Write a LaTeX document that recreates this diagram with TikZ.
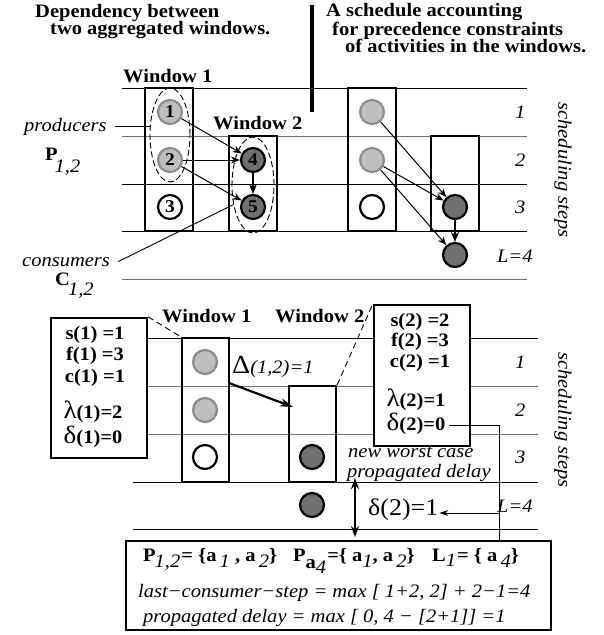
\documentclass[tikz,border=0pt]{standalone}
\usepackage{fontspec}
\setmainfont{Liberation Serif}[FakeStretch=1.08]
\usetikzlibrary{shapes.geometric,arrows.meta}
\definecolor{lightfill}{HTML}{BEBEBE}
\definecolor{lightdraw}{HTML}{8C8C8C}
\definecolor{darkfill}{HTML}{707070}
\definecolor{gridgray}{HTML}{707070}
\newcommand\fs[1]{\fontsize{#1}{#1}\selectfont}
\newcommand\lowit[2][0.5em]{\raisebox{-#1}{\normalfont\itshape #2}}
\newcommand\lowbf[2][0.45em]{\raisebox{-#1}{#2}}
\begin{document}
\begin{tikzpicture}[x=1pt,y=-1pt,font=\fs{19},
  lbl/.style={anchor=base west,inner sep=0pt},
  cbl/.style={anchor=base,inner sep=0pt,font=\fs{19}\bfseries},
  gridb/.style={line width=0.9pt},
  gridg/.style={line width=0.9pt,draw=gridgray},
  winbox/.style={draw,line width=2.3pt,inner sep=0pt,minimum width=48pt},
  infobox/.style={draw,line width=2.3pt,fill=white,inner sep=0pt,minimum width=96pt},
  lightc/.style={circle,fill=lightfill,draw=lightdraw,line width=2.2pt,minimum size=24pt,inner sep=0pt,font=\fs{18}\bfseries},
  whitec/.style={circle,fill=white,draw=black,line width=2.2pt,minimum size=24pt,inner sep=0pt,font=\fs{18}\bfseries},
  darkc/.style={circle,fill=darkfill,draw=black,line width=2.2pt,minimum size=24pt,inner sep=0pt,font=\fs{18}\bfseries},
  arr/.style={-{Stealth[length=9pt,width=7pt]},line width=1pt},
  thickarr/.style={-{Stealth[length=10pt,width=8pt]},line width=2.2pt},
  dashline/.style={dash pattern=on 6pt off 4pt,line width=0.9pt},
  group/.style={ellipse,draw,dash pattern=on 6pt off 3pt,line width=0.9pt,inner sep=0pt},
  steps/.style={rotate=-90,font=\fs{19}\itshape,inner sep=0pt}
]
\useasboundingbox (0,0) rectangle (604,635);

% ---------- titles ----------
\node[lbl,font=\fs{19}\bfseries] (t1a) at (35,17) {Dependency between};
\node[lbl,font=\fs{19}\bfseries] (t1b) at (50,34) {two aggregated windows.};
\node[lbl,font=\fs{19}\bfseries] (t2a) at (326,16) {A schedule accounting};
\node[lbl,font=\fs{19}\bfseries] (t2b) at (332,35) {for precedence constraints};
\node[lbl,font=\fs{19}\bfseries] (t2c) at (345,52) {of activities in the windows.};
\coordinate (barT) at (312,5);
\coordinate (barB) at (312,112);
\draw[line width=4pt] (barT) -- (barB);

% ---------- top grid ----------
\draw[gridb] (122,88) -- (527,88);
\draw[gridg] (122,136) -- (527,136);
\draw[gridb] (122,184) -- (527,184);
\draw[gridb] (122,231) -- (527,231);
\draw[gridg] (122,279) -- (527,279);

% ---------- top left: two windows ----------
\node[winbox,minimum height=143pt] (W1) at (169,159.5) {};
\node[winbox,minimum height=95pt] (W2) at (253,183.5) {};
\node[lbl,font=\fs{19}\bfseries] (w1lab) at (123,82) {Window 1};
\node[lbl,font=\fs{19}\bfseries] (w2lab) at (213,129) {Window 2};

\node[group,minimum width=40pt,minimum height=94pt] (prod) at (170,135) {};
\node[group,minimum width=42pt,minimum height=96pt] (cons) at (253,185) {};

\node[lightc] (a1) at (170,112) {1};
\node[lightc] (a2) at (170,160) {2};
\node[whitec] (a3) at (170,207) {3};
\node[darkc] (a4) at (253,160) {4};
\node[darkc] (a5) at (253,207) {5};

\draw[arr] (a1) -- (a4);
\draw[arr] (a2) -- (a4);
\draw[arr] (a2) -- (a5);
\draw[thickarr,line width=1.8pt] (a4) -- (a5);

\node[lbl,font=\fs{19}\itshape] (prodlab) at (24,131) {producers};
\draw[line width=0.9pt] ([xshift=8pt]prodlab.east) -- (prodlab.east -| prod.west);
\node[lbl] (Plab) at (45,160) {\textbf{P}\kern-3pt\lowit[0.65em]{1,2}};
\node[lbl,font=\fs{19}\itshape] (conslab) at (22,266) {consumers};
\draw[line width=0.9pt] ([xshift=8pt]conslab.east) -- (cons.225);
\node[lbl] (Clab) at (55,285) {\textbf{C}\kern-2pt\lowit[0.55em]{1,2}};

% ---------- top right: schedule ----------
\node[winbox,minimum height=143pt] (WA) at (372,159.5) {};
\node[winbox,minimum height=95pt] (WB) at (455,183.5) {};
\node[lightc] (b1) at (372,112) {};
\node[lightc] (b2) at (372,160) {};
\node[whitec] (b3) at (372,207) {};
\node[darkc] (b4) at (455,207) {};
\node[darkc] (b5) at (455,255) {};
\draw[arr] (b1) -- (b4);
\draw[arr] (b2) -- (b4);
\draw[arr] (b2) -- (b5);
\draw[thickarr,line width=1.8pt] (b4) -- (b5);

\node[lbl,font=\fs{19}\itshape] (s1) at (515,118) {1};
\node[lbl,font=\fs{19}\itshape] (s2) at (515,166) {2};
\node[lbl,font=\fs{19}\itshape] (s3) at (515,213) {3};
\node[lbl,font=\fs{19}\itshape] (sL) at (497,262) {L=4};
\node[steps] (ss1) at (563,170) {scheduling steps};

% ---------- bottom grid ----------
\draw[gridb] (133,338) -- (538,338);
\draw[gridg] (133,386) -- (538,386);
\draw[gridg] (133,434) -- (538,434);
\draw[gridb] (133,482) -- (538,482);
\draw[gridb] (133,529) -- (538,529);

% ---------- bottom windows ----------
\node[winbox,minimum width=47pt,minimum height=144pt] (W1b) at (205.5,410) {};
\node[winbox,minimum width=47pt,minimum height=96pt] (W2b) at (312.5,434) {};
\node[lbl,font=\fs{19}\bfseries] (w1blab) at (162,322) {Window 1};
\node[lbl,font=\fs{19}\bfseries] (w2blab) at (275,322) {Window 2};

\node[lightc] (c1) at (205,362) {};
\node[lightc] (c2) at (205,410) {};
\node[whitec] (c3) at (205,457) {};
\node[darkc] (c4) at (312,457) {};
\node[darkc] (c5) at (312,505) {};

% left info box
\node[infobox,minimum height=140pt] (lbox) at (99,388) {};
\node[cbl] (l1) at (95,339) {s(1) =1};
\node[cbl] (l2) at (95,360) {f(1) =3};
\node[cbl] (l3) at (95,382) {c(1) =1};
\node[cbl] (l4) at (93,418) {{\mdseries\fs{25}λ}(1)=2};
\node[cbl] (l5) at (93,443) {{\mdseries\fs{25}δ}(1)=0};
\draw[dashline] (lbox.north east) -- (W1b.north west);

% right info box
\node[infobox,minimum height=141pt] (rbox) at (422,375.5) {};
\node[cbl] (r1) at (420,326) {s(2) =2};
\node[cbl] (r2) at (420,346) {f(2) =3};
\node[cbl] (r3) at (420,367) {c(2) =1};
\node[cbl] (r4) at (416,406) {{\mdseries\fs{25}λ}(2)=1};
\node[cbl] (r5) at (416,430) {{\mdseries\fs{25}δ}(2)=0};
\draw[dashline] (W2b.north east) -- (rbox.north west);

% delta arrow
\node[lbl] (dlab) at (232,373) {{\fs{26}Δ}{\itshape(1,2)=1}};
\coordinate (dS) at (229,383);
\coordinate (dE) at (293,407);
\draw[thickarr,-{Stealth[length=13pt,width=8pt]}] (dS) -- (dE);

\node[lbl,font=\fs{19}\itshape] (nw1) at (348,457) {new worst case};
\node[lbl,font=\fs{19}\itshape] (nw2) at (347,477) {propagated delay};

\node[lbl,font=\fs{19}\itshape] (u1) at (515,368) {1};
\node[lbl,font=\fs{19}\itshape] (u2) at (515,416) {2};
\node[lbl,font=\fs{19}\itshape] (u3) at (515,463) {3};
\node[lbl,font=\fs{19}\itshape] (uL) at (497,512) {L=4};
\node[steps] (ss2) at (563,420) {scheduling steps};

% propagated delay
\coordinate (da1) at (355,478);
\coordinate (da2) at (355,537);
\draw[{Stealth[length=11pt,width=8pt]}-{Stealth[length=11pt,width=8pt]},line width=2.2pt] (da1) -- (da2);
\node[lbl,font=\fs{24}] (d21) at (368,515) {δ(2)=1};

% formula box
\node[draw,line width=2.3pt,fill=white,inner sep=0pt,minimum width=425pt,minimum height=89pt] (fbox) at (338.5,585.5) {};
\node[lbl] (f1) at (143,561) {\textbf{P}\kern-1pt\lowit[0.35em]{1,2}\kern1pt\textbf{= \{a}\,\lowit[0.35em]{1}\textbf{ , a}\,\lowit[0.35em]{2}\textbf{\}}};
\node[lbl] (f2) at (293,561) {\textbf{P}\lowbf[0.4em]{\textbf{a}\lowit[0.25em]{4}}\kern1pt\textbf{=\{ a}\lowit[0.35em]{1}\textbf{, a}\,\lowit[0.35em]{2}\textbf{\}}};
\node[lbl] (f3) at (432,561) {\textbf{L}\lowit[0.3em]{1}\kern1pt\textbf{= \{ a}\,\lowit[0.35em]{4}\textbf{\}}};
\node[lbl,font=\fs{19}\itshape] (f4) at (138,597) {last−consumer−step = max [ 1+2, 2] + 2−1=4};
\node[lbl,font=\fs{19}\itshape] (f5) at (143,622) {propagated delay = max [ 0, 4 − [2+1]] =1};

% connector from delta(2)=0 to formula and to delta(2)=1
\coordinate (jtop) at (499,425);
\coordinate (jmid) at (499,513);
\draw[line width=0.9pt] ([xshift=3pt]r5.base east |- jtop) -- (jtop) -- (jtop |- fbox.north);
\draw[-{Stealth[length=9pt,width=6pt]},line width=0.9pt] (jmid) -- ([xshift=1pt]d21.base east |- jmid);
\end{tikzpicture}
\end{document}
